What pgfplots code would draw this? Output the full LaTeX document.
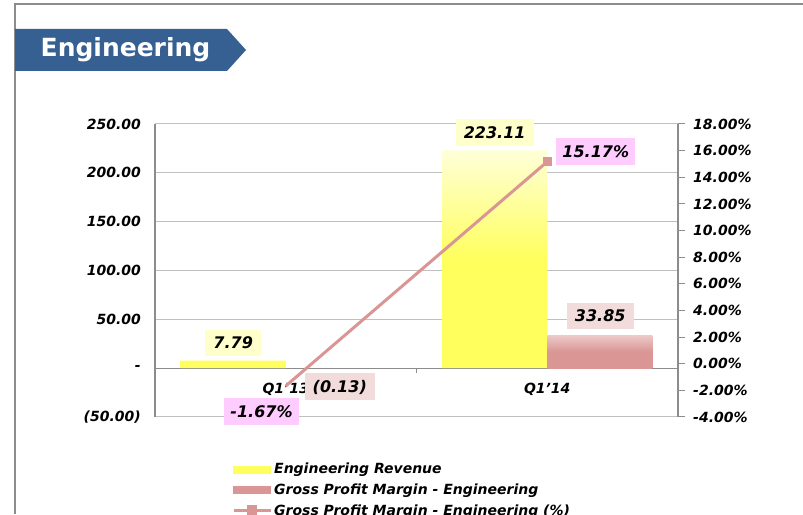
\documentclass[border=0pt]{standalone}
\usepackage{pgfplots}
\pgfplotsset{compat=1.18}
\usepackage{fontspec}
\setmainfont{DejaVu Sans}
\definecolor{ylwTop}{HTML}{FFFFD8}
\definecolor{ylwMain}{HTML}{FFFF5E}
\definecolor{brnTop}{HTML}{EDCACA}
\definecolor{brnMain}{HTML}{D99694}
\definecolor{lineCol}{HTML}{D99694}
\definecolor{lblYellow}{HTML}{FFFFCC}
\definecolor{lblBrown}{HTML}{F2DCDB}
\definecolor{lblPink}{HTML}{FFCCFF}
\definecolor{banner}{HTML}{366092}
\definecolor{gridgray}{HTML}{C0C0C0}
\definecolor{axisgray}{HTML}{8C8C8C}
\newcommand{\tfont}{\fontsize{14}{16}\selectfont\bfseries\itshape}
\newcommand{\dfont}{\fontsize{16}{18}\selectfont\bfseries\itshape}
\begin{document}
\begin{tikzpicture}[x=1pt,y=1pt]
\useasboundingbox (0,0) rectangle (803,514);
\fill[white] (0,0) rectangle (803,514);
\draw[axisgray, line width=1.5pt] (15,0) -- (15,510) -- (803,510);
\fill[banner] (15,485) -- (227,485) -- (246,464) -- (227,443) -- (15,443) -- cycle;
\node[text=white, font=\fontsize{25}{29}\selectfont\bfseries] at (125.5,464) {Engineering};

\begin{axis}[
  at={(155pt,97pt)}, anchor=south west, scale only axis,
  width=523pt, height=293pt, clip=false,
  xmin=-0.5, xmax=1.5, ymin=-50, ymax=250,
  axis x line*=middle, axis y line*=left,
  hide obscured x ticks=false, hide obscured y ticks=false,
  axis line style={axisgray, line width=1.2pt},
  xtick={0,1}, xticklabels={Q1'13,Q1'14},
  minor xtick={-0.5,0.5,1.5},
  tick align=outside, major tick length=0pt, minor tick length=5pt,
  tick style={axisgray, line width=1pt},
  ytick={-50,0,50,100,150,200,250},
  yticklabels={(50.00),-\hspace{14pt},50.00\hspace{4pt},100.00\hspace{4pt},150.00\hspace{4pt},200.00\hspace{4pt},250.00\hspace{4pt}},
  ymajorgrids, grid style={gridgray, line width=1pt},
  tick label style={font=\tfont},
  yticklabel style={anchor=east, inner sep=0pt, xshift=-14pt},
  xticklabel style={anchor=north, inner sep=0pt, yshift=-15pt},
  nodes near coords style={font=\dfont, text=black, inner xsep=8pt, inner ysep=7.5pt, text height=11.7pt, text depth=0pt},
]
\addplot[ybar, bar width=0.402, bar shift=-0.201, draw=none,
  top color=ylwTop, bottom color=ylwMain, middle color=ylwMain,
  point meta=explicit symbolic, nodes near coords,
  every node near coord/.append style={fill=lblYellow, anchor=south, xshift=-52.6pt, yshift=4pt}]
  coordinates {(0,7.79) [7.79] (1,223.11) [223.11]};
\addplot[ybar, bar width=0.402, bar shift=0.201, draw=none,
  top color=brnTop, bottom color=brnMain, middle color=brnMain,
  point meta=explicit symbolic, nodes near coords,
  every node near coord/.append style={fill=lblBrown, anchor=north, xshift=54pt, yshift=-5pt}]
  coordinates {(0,-0.13) [(0.13)]};
\addplot[ybar, bar width=0.402, bar shift=0.201, draw=none,
  top color=brnTop, bottom color=brnMain, middle color=brnMain,
  point meta=explicit symbolic, nodes near coords,
  every node near coord/.append style={fill=lblBrown, anchor=south, xshift=53pt, yshift=5.5pt}]
  coordinates {(1,33.85) [33.85]};
\end{axis}

\begin{axis}[
  at={(155pt,97pt)}, anchor=south west, scale only axis,
  width=523pt, height=293pt, clip=false,
  xmin=-0.5, xmax=1.5, ymin=-4, ymax=18,
  axis x line=none, axis y line*=right,
  axis line style={axisgray, line width=1.2pt},
  ytick={-4,-2,0,2,4,6,8,10,12,14,16,18},
  yticklabels={-4.00\%,-2.00\%,0.00\%,2.00\%,4.00\%,6.00\%,8.00\%,10.00\%,12.00\%,14.00\%,16.00\%,18.00\%},
  tick align=outside, major tick length=7pt,
  tick style={axisgray, line width=1pt},
  tick label style={font=\tfont},
  yticklabel style={anchor=west, inner sep=0pt, xshift=8pt},
  legend style={at={(0.1472,-0.150)}, anchor=north west, draw=none, fill=none,
    font=\tfont, row sep=4.5pt, inner sep=0pt},
  legend cell align=left,
]
\addlegendimage{legend image code/.code={\fill[ylwMain] (0pt,-3.5pt) rectangle (37pt,3.5pt);}}
\addlegendentry{Engineering Revenue}
\addlegendimage{legend image code/.code={\fill[brnMain] (0pt,-3.5pt) rectangle (37pt,3.5pt);}}
\addlegendentry{Gross Profit Margin - Engineering}
\addplot[lineCol, line width=3pt, mark=square*, mark size=4pt, mark indices={2},
  mark options={solid, line width=0pt},
  legend image code/.code={\draw[lineCol,line width=3pt] (0pt,0pt)--(37pt,0pt); \fill[lineCol] (15pt,-3.5pt) rectangle (22pt,3.5pt);}]
  coordinates {(0,-1.67) (1,15.17)};
\addlegendentry{Gross Profit Margin - Engineering (\%)}
\node[fill=lblPink, font=\dfont, inner xsep=6pt, inner ysep=7.5pt, text height=11.7pt, text depth=0pt, anchor=north east, xshift=13pt, yshift=-12pt] at (axis cs:0,-1.67) {-1.67\%};
\node[fill=lblPink, font=\dfont, inner xsep=6pt, inner ysep=7.5pt, text height=11.7pt, text depth=0pt, anchor=west, xshift=9pt, yshift=10pt] at (axis cs:1,15.17) {15.17\%};
\end{axis}
\end{tikzpicture}
\end{document}
